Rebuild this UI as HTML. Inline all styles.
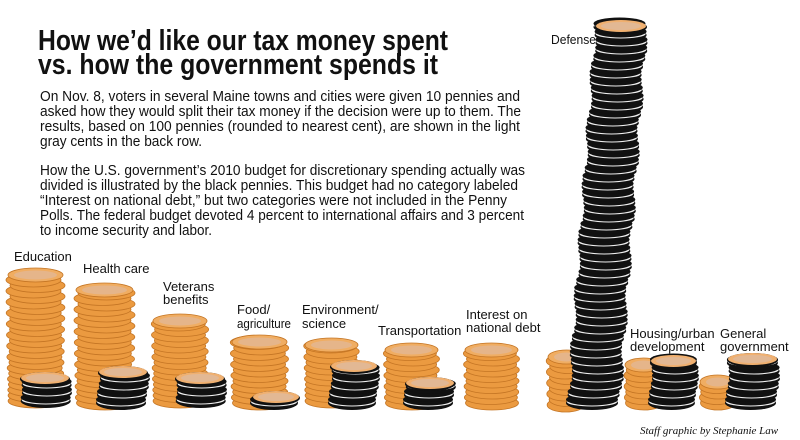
<!DOCTYPE html>
<html><head><meta charset="utf-8"><style>
html,body{margin:0;padding:0;background:#fff;}
svg{display:block;}
text{font-family:"Liberation Sans",Arial,sans-serif;fill:#111;}
</style></head><body>
<svg id="s" width="800" height="440" viewBox="0 0 800 440" xmlns="http://www.w3.org/2000/svg">
<rect width="800" height="440" fill="#fff"/>
<g id="coins"></g>
<text x="38" y="50" font-size="29" font-weight="bold" textLength="410" lengthAdjust="spacingAndGlyphs">How we’d like our tax money spent</text>
<text x="38" y="74" font-size="29" font-weight="bold" textLength="400" lengthAdjust="spacingAndGlyphs">vs. how the government spends it</text>
<g font-size="14.5">
<text x="40" y="101" textLength="480" lengthAdjust="spacingAndGlyphs">On Nov. 8, voters in several Maine towns and cities were given 10 pennies and</text>
<text x="40" y="116" textLength="481" lengthAdjust="spacingAndGlyphs">asked how they would split their tax money if the decision were up to them. The</text>
<text x="40" y="131" textLength="480" lengthAdjust="spacingAndGlyphs">results, based on 100 pennies (rounded to nearest cent), are shown in the light</text>
<text x="40" y="146" textLength="162" lengthAdjust="spacingAndGlyphs">gray cents in the back row.</text>
<text x="40" y="175" textLength="485" lengthAdjust="spacingAndGlyphs">How the U.S. government’s 2010 budget for discretionary spending actually was</text>
<text x="40" y="190" textLength="478" lengthAdjust="spacingAndGlyphs">divided is illustrated by the black pennies. This budget had no category labeled</text>
<text x="40" y="205" textLength="467" lengthAdjust="spacingAndGlyphs">“Interest on national debt,” but two categories were not included in the Penny</text>
<text x="40" y="220" textLength="484" lengthAdjust="spacingAndGlyphs">Polls. The federal budget devoted 4 percent to international affairs and 3 percent</text>
<text x="40" y="235" textLength="172" lengthAdjust="spacingAndGlyphs">to income security and labor.</text>
</g>
<g font-size="13">
<text x="14" y="261">Education</text>
<text x="83" y="273">Health care</text>
<text x="163" y="291">Veterans</text>
<text x="163" y="304">benefits</text>
<text x="237" y="314">Food/</text>
<text x="237" y="328" textLength="54" lengthAdjust="spacingAndGlyphs">agriculture</text>
<text x="302" y="314">Environment/</text>
<text x="302" y="328">science</text>
<text x="378" y="335">Transportation</text>
<text x="466" y="319">Interest on</text>
<text x="466" y="332">national debt</text>
<text x="551" y="44" textLength="45" lengthAdjust="spacingAndGlyphs">Defense</text>
<text x="630" y="338">Housing/urban</text>
<text x="630" y="351">development</text>
<text x="720" y="338">General</text>
<text x="720" y="351">government</text>
</g>
<text x="640" y="434" font-size="11" font-style="italic" style="font-family:'Liberation Serif',serif">Staff graphic by Stephanie Law</text>
</svg>
<script>
var g=document.getElementById('coins'),out='';
function el(cx,cy,rx,ry,f,s){out+='<ellipse cx="'+cx.toFixed(1)+'" cy="'+cy.toFixed(1)+'" rx="'+rx+'" ry="'+ry+'" fill="'+f+'"'+(s?' stroke="'+s+'" stroke-width="0.8"':'')+'/>';}
function orange(x0,x1,top,bot){var w=(x1-x0)/2,c=(x0+x1)/2,ry=7,step=5.5;
 for(var y=bot-ry;y>=top+ry;y-=step){var j=Math.sin(y*1.7)*2;el(c+j,y,w,ry,'#eb9a40','#c47524');}
 el(c,top+ry,w,ry,'#f0ad62','#c47524');el(c,top+ry,w-6,ry-2.5,'#e5b58a');}
function black(xb0,xb1,top,bot,xt){var w=(xb1-xb0)/2,cb=(xb0+xb1)/2,ct=(xt===undefined?cb:xt),ry=7,step=8;
 for(var y=bot-ry;y>=top+ry;y-=step){var t=(bot-ry-y)/Math.max(1,(bot-top-2*ry));var c=cb+(ct-cb)*t+Math.sin(y*0.9)*2;
  el(c,y,w,ry,'#111');el(c,y-1,w-1,ry-2.5,'#eee');el(c,y-3.5,w,ry-1,'#111');}
 el(ct,top+ry,w,ry,'#111');el(ct,top+ry-1,w-1,ry-1,'#f0b070');el(ct,top+ry-1,w-6,ry-3,'#e2b894');}
orange(8,63,268,408);black(20,70,372,408);
orange(76,133,283,410);black(98,148,366,410);
orange(153,207,314,408);black(175,225,372,408);
orange(232,287,335,410);black(252,300,391,410);
orange(305,358,338,408);black(330,378,360,410);
orange(385,438,343,410);black(405,455,377,410);
orange(465,518,343,410);
orange(548,585,350,412);black(568,620,20,410,621);
orange(625,662,358,410);black(650,697,355,410);
orange(700,735,375,410);black(727,778,353,410);
g.innerHTML=out;
</script>
</body></html>
